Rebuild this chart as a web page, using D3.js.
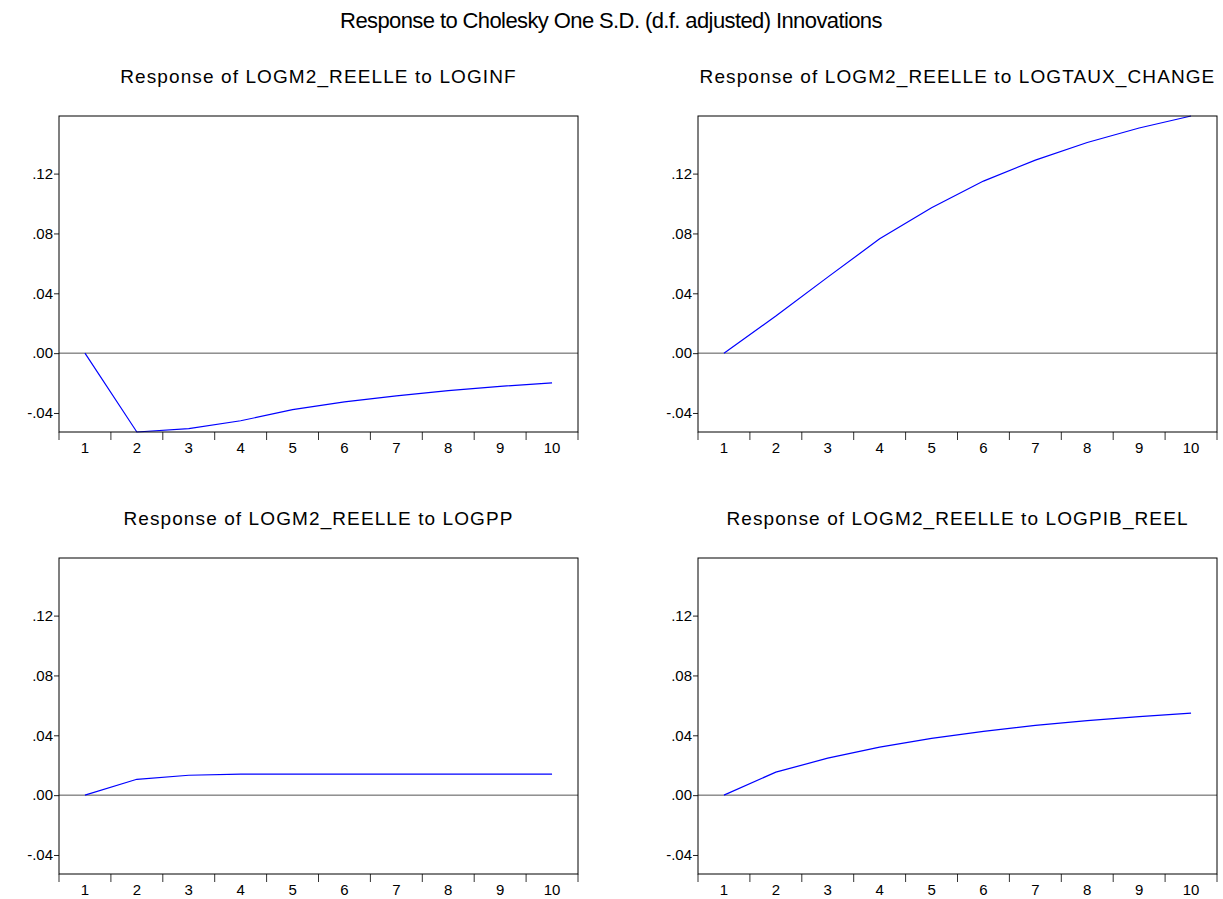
<!DOCTYPE html>
<html>
<head>
<meta charset="utf-8">
<script src="https://cdn.jsdelivr.net/npm/d3@7"></script>
<style>
  body { margin: 0; background: #fff; }
  svg { font-family: "Liberation Sans", Arial, sans-serif; }
</style>
</head>
<body>
<svg id="chart" width="1223" height="899"></svg>
<script>
const periods = [1, 2, 3, 4, 5, 6, 7, 8, 9, 10];
const yTicks = [-0.04, 0.00, 0.04, 0.08, 0.12];

const mainTitle = 'Response to Cholesky One S.D. (d.f. adjusted) Innovations';
const panelTitles = [
    'Response of LOGM2_REELLE to LOGINF',
    'Response of LOGM2_REELLE to LOGTAUX_CHANGE',
    'Response of LOGM2_REELLE to LOGPP',
    'Response of LOGM2_REELLE to LOGPIB_REEL'
];

// impulse responses
const respLoginf = [0.0, -0.0527, -0.0505, -0.0452, -0.0378, -0.0326, -0.0285, -0.0250, -0.0222, -0.0199];
const respLogtaux = [0.0, 0.0248, 0.0508, 0.0764, 0.0972, 0.1150, 0.1290, 0.1408, 0.1505, 0.1585];
const respLogpp = [0.0, 0.0106, 0.0133, 0.0140, 0.0141, 0.0141, 0.0141, 0.0141, 0.0141, 0.0141];
const respLogpib = [0.0, 0.0154, 0.0247, 0.0321, 0.0380, 0.0426, 0.0466, 0.0498, 0.0525, 0.0548];

const series = [respLoginf, respLogtaux, respLogpp, respLogpib];

const svg = d3.select('#chart');

svg.append('text')
    .attr('x', 611)
    .attr('y', 28)
    .attr('text-anchor', 'middle')
    .style('font-size', '22px')
    .style('letter-spacing', '-0.6px')
    .text(mainTitle);

//panel frames: left, top, width, height
const panelW = 519, panelH = 316;
const lefts = [59, 698], tops = [116, 558];

//common y scale across all panels (EViews style)
const allVals = series.flat();
const y = d3.scaleLinear()
    .domain(d3.extent(allVals))
    .range([panelH, 0]);

const x = d3.scaleBand()
    .domain(periods)
    .range([0, panelW]);

// ".04", "-.04" like EViews
const fmtTick = d => d3.format('.2f')(d).replace('0.', '.').replace('\u2212', '-');

series.forEach((vals, i) => {
    const left = lefts[i % 2], top = tops[Math.floor(i / 2)];
    const g = svg.append('g').attr('transform', `translate(${left},${top})`);

    svg.append('text')
        .attr('x', left + panelW / 2)
        .attr('y', top - 33)
        .attr('text-anchor', 'middle')
        .style('font-size', '19px')
        .style('letter-spacing', '1.1px')
        .text(panelTitles[i]);

    //y axis ticks
    const yAxis = g.append('g')
        .call(d3.axisLeft(y).tickValues(yTicks).tickSize(5).tickPadding(1)
            .tickFormat(fmtTick));
    yAxis.select('.domain').remove();
    yAxis.selectAll('line').attr('stroke', '#222');
    yAxis.selectAll('text').style('font-size', '15px').attr('fill', '#000');

    //x axis: ticks at band edges, labels at centres
    g.append('g')
        .attr('transform', `translate(0,${panelH})`)
        .selectAll('line')
        .data(d3.range(periods.length + 1))
        .join('line')
            .attr('x1', d => d * x.step())
            .attr('x2', d => d * x.step())
            .attr('y1', 0)
            .attr('y2', 8)
            .attr('stroke', '#333');

    g.append('g')
        .selectAll('text')
        .data(periods)
        .join('text')
            .attr('x', d => x(d) + x.bandwidth() / 2)
            .attr('y', panelH + 21)
            .attr('text-anchor', 'middle')
            .style('font-size', '15px')
            .text(d => d);

    //zero line
    g.append('line')
        .attr('x1', 0).attr('x2', panelW)
        .attr('y1', y(0)).attr('y2', y(0))
        .attr('stroke', '#555')
        .attr('stroke-width', 1);

    //response line
    const line = d3.line()
        .x((d, j) => x(periods[j]) + x.bandwidth() / 2)
        .y(d => y(d));

    g.append('path')
        .datum(vals)
        .attr('d', line)
        .attr('fill', 'none')
        .attr('stroke', '#0000ff')
        .attr('stroke-width', 1.2);

    g.append('rect')
        .attr('x', 0).attr('y', 0)
        .attr('width', panelW).attr('height', panelH)
        .attr('fill', 'none')
        .attr('stroke', '#000')
        .attr('stroke-width', 1);
});
</script>
</body>
</html>
